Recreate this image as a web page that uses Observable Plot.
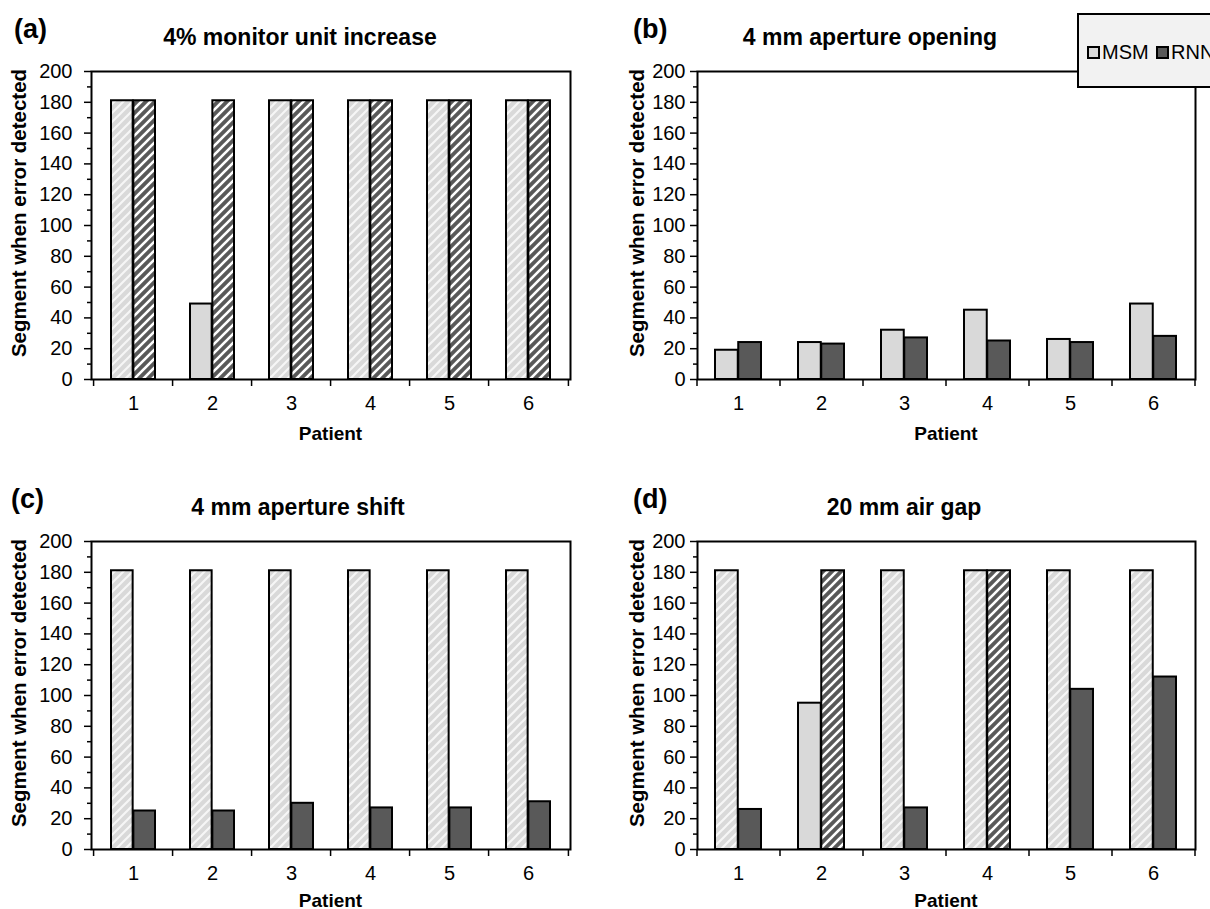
<!DOCTYPE html>
<html><head><meta charset="utf-8">
<script src="https://cdn.jsdelivr.net/npm/d3@7"></script>
<script src="https://cdn.jsdelivr.net/npm/@observablehq/plot@0.6"></script>
<style>
html,body{margin:0;padding:0;background:#fff;}
#root{position:relative;width:1210px;height:909px;overflow:hidden;font-family:"Liberation Sans",Arial,sans-serif;color:#000;background:#fff;}
.t{position:absolute;white-space:nowrap;font-weight:bold;line-height:1;}
.pane{position:absolute;}
.legend{position:absolute;left:1077px;top:13px;width:200px;height:71px;background:#f2f2f2;border:2px solid #000;font-size:20px;}
.legend .item{position:absolute;top:27px;display:flex;align-items:center;line-height:1;}
.legend .sw{width:9px;height:9px;border:2px solid #000;margin-right:2px;}
</style></head><body>
<div id="root"></div>
<script>
// ---- data ----
const patients = ["1", "2", "3", "4", "5", "6"];
const seriesNames = ["MSM", "RNN"];
const seriesColors = ["#d9d9d9", "#595959"];
const panelTags = ["(a)", "(b)", "(c)", "(d)"];
const panelTitles = ["4% monitor unit increase", "4 mm aperture opening", "4 mm aperture shift", "20 mm air gap"];
const msmA = [181, 49, 181, 181, 181, 181];
const rnnA = [181, 181, 181, 181, 181, 181];
const msmB = [19, 24, 32, 45, 26, 49];
const rnnB = [24, 23, 27, 25, 24, 28];
const msmC = [181, 181, 181, 181, 181, 181];
const rnnC = [25, 25, 30, 27, 27, 31];
const msmD = [181, 95, 181, 181, 181, 181];
const rnnD = [26, 181, 27, 181, 104, 112];
const notDetected = 181; // error never detected (hatched bars)
const yMajorTicks = [0, 20, 40, 60, 80, 100, 120, 140, 160, 180, 200];
const yMinorTicks = [10, 30, 50, 70, 90, 110, 130, 150, 170, 190];
const xLabel = "Patient";
const yLabel = "Segment when error detected";

// ---- layout ----
const root = document.getElementById("root");
const NS = "http://www.w3.org/2000/svg";
const defs = document.createElementNS(NS, "svg");
defs.setAttribute("width", 0); defs.setAttribute("height", 0);
defs.style.position = "absolute";
defs.innerHTML = `<defs>
<pattern id="hatchLight" patternUnits="userSpaceOnUse" width="9" height="9">
<rect width="9" height="9" fill="#d9d9d9"/>
<path d="M-2,2 L2,-2 M0,9 L9,0 M7,11 L11,7" stroke="#f6f6f6" stroke-width="2.2"/>
</pattern>
<pattern id="hatchDark" patternUnits="userSpaceOnUse" width="9" height="9">
<rect width="9" height="9" fill="#595959"/>
<path d="M-2,2 L2,-2 M0,9 L9,0 M7,11 L11,7" stroke="#ffffff" stroke-width="2.6"/>
</pattern></defs>`;
root.appendChild(defs);

const panels = [
  {msm: msmA, rnn: rnnA, left: 0,   top: 0,   ml: 91, mr: 35, tagX: 14, titleX: 300, ylX: 19, tp: 12},
  {msm: msmB, rnn: rnnB, left: 605, top: 0,   ml: 92, mr: 15, tagX: 633, titleX: 870, ylX: 637, tp: 5},
  {msm: msmC, rnn: rnnC, left: 0,   top: 470, ml: 91, mr: 35, tagX: 11, titleX: 298, ylX: 19, tp: 12},
  {msm: msmD, rnn: rnnD, left: 605, top: 470, ml: 92, mr: 15, tagX: 633, titleX: 904, ylX: 637, tp: 5}
];

function addText(txt, x, y, size, anchor, rotate) {
  const d = document.createElement("div");
  d.className = "t";
  d.textContent = txt;
  d.style.fontSize = size + "px";
  d.style.left = x + "px";
  d.style.top = y + "px";
  let tr = "translate(" + (anchor === "middle" ? "-50%" : "0") + ",-50%)";
  if (rotate) tr = "translate(-50%,-50%) rotate(-90deg)";
  d.style.transform = tr;
  root.appendChild(d);
}

panels.forEach((p, k) => {
  const W = 605, H = 460, mt = 71, mb = 81;
  const step = (W - p.ml - p.mr) / patients.length;
  const pIn = 0.44;
  const bw = step * (1 - pIn);
  const rows = patients.map((pt, i) => ({patient: pt, msm: p.msm[i], rnn: p.rnn[i]}));
  const barOpts = {x: "patient", stroke: "#000", strokeWidth: 2};
  const svg = Plot.plot({
    width: W, height: H,
    marginLeft: p.ml, marginRight: p.mr, marginTop: mt, marginBottom: mb,
    style: {fontFamily: '"Liberation Sans", Arial, sans-serif', fontSize: "20px", color: "#000", background: "transparent", overflow: "visible"},
    x: {domain: patients, paddingInner: pIn, paddingOuter: pIn / 2, axis: null, label: null},
    y: {domain: [0, 200], axis: null, label: null},
    marks: [
      Plot.barY(rows.filter(d => d.msm !== notDetected), {...barOpts, y: "msm", fill: seriesColors[0], insetRight: bw / 2}),
      Plot.barY(rows.filter(d => d.msm === notDetected), {...barOpts, y: "msm", fill: "url(#hatchLight)", insetRight: bw / 2}),
      Plot.barY(rows.filter(d => d.rnn !== notDetected), {...barOpts, y: "rnn", fill: seriesColors[1], insetLeft: bw / 2}),
      Plot.barY(rows.filter(d => d.rnn === notDetected), {...barOpts, y: "rnn", fill: "url(#hatchDark)", insetLeft: bw / 2}),
      Plot.frame({stroke: "#000", strokeWidth: 2}),
      Plot.axisY(yMajorTicks, {tickSize: 7, tickPadding: p.tp, strokeWidth: 1.5, fontSize: 20, label: null}),
      Plot.axisY(yMinorTicks, {tickSize: 4, strokeWidth: 1.5, tickFormat: () => "", label: null}),
      Plot.axisX(patients, {tickSize: 7, dx: -step / 2, strokeWidth: 1.5, tickFormat: () => "", label: null}),
      Plot.axisX([patients[patients.length - 1]], {tickSize: 7, dx: step / 2, strokeWidth: 1.5, tickFormat: () => "", label: null}),
      Plot.axisX(patients, {tickSize: 0, tickPadding: 16, fontSize: 20, label: null})
    ]
  });
  const wrap = document.createElement("div");
  wrap.className = "pane";
  wrap.style.left = p.left + "px";
  wrap.style.top = p.top + "px";
  wrap.appendChild(svg);
  root.appendChild(wrap);
  // texts
  addText(panelTags[k], p.tagX, p.top + 29, 27, "start");
  addText(panelTitles[k], p.titleX, p.top + 37, 23, "middle");
  const plotCx = p.left + p.ml + (W - p.ml - p.mr) / 2;
  addText(xLabel, plotCx, p.top + (k < 2 ? 433 : 430), 19, "middle");
  addText(yLabel, p.ylX, p.top + mt + (H - mt - mb) / 2 - 12, 20.5, "middle", true);
});

// legend
const lg = document.createElement("div");
lg.className = "legend";
seriesNames.forEach((s, i) => {
  const it = document.createElement("div");
  it.className = "item";
  it.style.left = (8 + i * 69) + "px";
  const sw = document.createElement("div");
  sw.className = "sw";
  sw.style.background = seriesColors[i];
  const tx = document.createElement("span");
  tx.textContent = s;
  it.appendChild(sw); it.appendChild(tx);
  lg.appendChild(it);
});
root.appendChild(lg);
</script>
</body></html>
